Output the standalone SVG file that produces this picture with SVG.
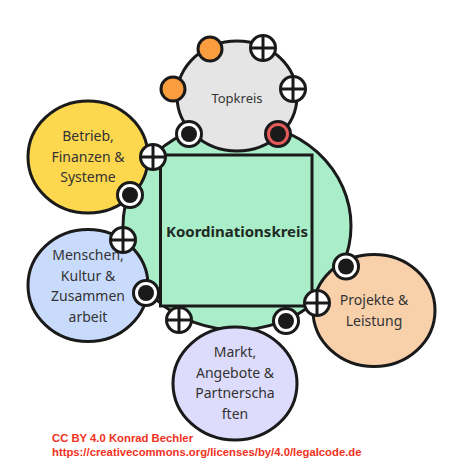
<svg xmlns="http://www.w3.org/2000/svg" width="454" height="468" viewBox="0 0 454 468">
<defs>
<style>
.c{stroke:#1a1a1a;stroke-width:3}
.lbl{font-family:"Noto Sans","Open Sans",sans-serif;font-size:14px;fill:#333;text-anchor:middle}
.pw{fill:#fff;stroke:#1a1a1a;stroke-width:3}
.px{stroke:#1a1a1a;stroke-width:3}
.dot{fill:#1a1a1a}
.lic{font-family:"Liberation Sans",Arial,sans-serif;font-weight:bold;font-size:11.3px;fill:#f0321e}
</style>
<g id="plus"><circle r="12.5" class="pw"/><path d="M-12.5 0H12.5M0 -12.5V12.5" class="px"/></g>
<g id="dotp"><circle r="12.5" class="pw"/><circle r="8" class="dot"/></g>
</defs>
<rect width="454" height="468" fill="#fff"/>
<g id="connectors"/>
<g id="koordinationskreis">
<ellipse cx="237" cy="226" rx="114" ry="104" fill="#a9eec8" class="c"/>
</g>
<g id="topkreis">
<ellipse cx="237" cy="96" rx="60" ry="55" fill="#e5e5e5" class="c"/>
<text x="237" y="103" class="lbl" style="font-size:13px">Topkreis</text>
<circle cx="210" cy="49" r="12" fill="#f99d3e" class="c"/>
<circle cx="173" cy="89" r="12" fill="#f99d3e" class="c"/>
<use href="#plus" x="263" y="48"/>
<use href="#plus" x="293" y="89"/>
<use href="#dotp" x="189" y="134"/>
<circle cx="278" cy="134" r="12.5" fill="#e85b5b" class="c"/>
<circle cx="278" cy="134" r="8" class="dot"/>
</g>
<g id="koordination-rect">
<rect x="160.5" y="155" width="151.5" height="151" fill="#a9eec8" stroke="#1a1a1a" stroke-width="3"/>
<text x="237" y="236.5" class="lbl" style="font-weight:bold;font-size:15px;fill:#1f2a24">Koordinationskreis</text>
</g>
<g id="betrieb">
<ellipse cx="88" cy="157" rx="60" ry="56" fill="#fdd84f" class="c"/>
<text class="lbl"><tspan x="88" y="141">Betrieb,</tspan><tspan x="88" y="161.5">Finanzen &amp;</tspan><tspan x="88" y="182">Systeme</tspan></text>
<use href="#plus" x="153" y="157"/>
<use href="#dotp" x="130" y="195"/>
</g>
<g id="menschen">
<ellipse cx="88" cy="285.5" rx="60" ry="56" fill="#c9dbfd" class="c"/>
<text class="lbl"><tspan x="88" y="260">Menschen,</tspan><tspan x="88" y="280.5">Kultur &amp;</tspan><tspan x="88" y="301">Zusammen</tspan><tspan x="88" y="321.5">arbeit</tspan></text>
<use href="#plus" x="123" y="240"/>
<use href="#dotp" x="146" y="293"/>
</g>
<g id="projekte">
<ellipse cx="374" cy="310.5" rx="61" ry="56" fill="#f8d1ab" class="c"/>
<text class="lbl"><tspan x="374" y="305">Projekte &amp;</tspan><tspan x="374" y="325.5">Leistung</tspan></text>
<use href="#dotp" x="346" y="266.5"/>
<use href="#plus" x="317" y="303"/>
</g>
<g id="markt">
<ellipse cx="235" cy="383.5" rx="62" ry="56.5" fill="#dedcfc" class="c"/>
<text class="lbl"><tspan x="235" y="357">Markt,</tspan><tspan x="235" y="377.5">Angebote &amp;</tspan><tspan x="235" y="398">Partnerscha</tspan><tspan x="235" y="418.5">ften</tspan></text>
</g>
<g id="bottom-ports">
<use href="#plus" x="179" y="320"/>
<use href="#dotp" x="286" y="321"/>
</g>
<g id="license">
<text x="52" y="442" class="lic">CC BY 4.0 Konrad Bechler</text>
<text x="52" y="456" class="lic">https://creativecommons.org/licenses/by/4.0/legalcode.de</text>
</g>
</svg>
